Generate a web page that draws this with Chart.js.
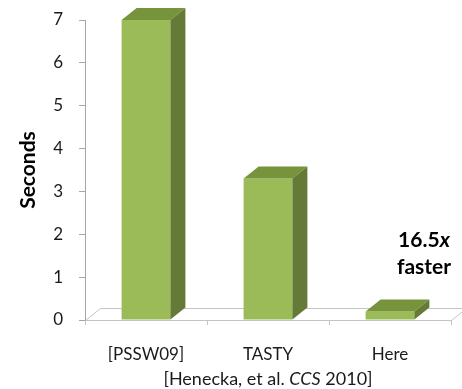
<!DOCTYPE html>
<html>
<head>
<meta charset="utf-8">
<script src="https://cdn.jsdelivr.net/npm/chart.js@4/dist/chart.umd.min.js"></script>
<style>
  html, body { margin: 0; padding: 0; background: #ffffff; }
  #wrap { width: 462px; height: 389px; }
</style>
</head>
<body>
<div id="wrap"><canvas id="chart" width="462" height="389"></canvas></div>
<script>
// Runtime of each protocol, in seconds
const categories = ['[PSSW09]', 'TASTY', 'Here'];
const seconds = [7.0, 3.3, 0.2];
const yTickValues = [0, 1, 2, 3, 4, 5, 6, 7];

// Text runs (italic flags) for the axis caption and the speed-up note
const captionRuns = [
  { text: '[Henecka, et al. ' },
  { text: 'CCS', italic: true },
  { text: ' 2010]' }
];
const noteLines = [
  [{ text: '16.5' }, { text: 'x', italic: true }],
  [{ text: 'faster' }]
];

const FONT = 'Lato, "Open Sans", "DejaVu Sans", sans-serif';
const FRONT = '#9bbb59';
const TOP = '#77933c';
const SIDE = '#657a36';
const FLOOR = '#c4c4c4';
const DX = 15, DY = -12;   // depth offset of the 3-D faces

function drawRuns(ctx, runs, cx, cy, size, weight) {
  const fontFor = r => `${r.italic ? 'italic ' : ''}${weight} ${size}px ${FONT}`;
  let total = 0;
  runs.forEach(r => { ctx.font = fontFor(r); total += ctx.measureText(r.text).width; });
  let x = cx - total / 2;
  ctx.textAlign = 'left';
  ctx.textBaseline = 'middle';
  runs.forEach(r => {
    ctx.font = fontFor(r);
    ctx.fillText(r.text, x, cy);
    x += ctx.measureText(r.text).width;
  });
}

const depthPlugin = {
  id: 'depth3d',
  beforeDatasetsDraw(chart) {
    const { ctx, chartArea: a } = chart;
    ctx.save();
    ctx.strokeStyle = FLOOR;
    ctx.lineWidth = 1;
    ctx.beginPath();
    ctx.moveTo(a.left + 0.5, a.bottom + 0.5);
    ctx.lineTo(a.left + DX + 0.5, a.bottom + DY + 0.5);
    ctx.lineTo(a.right + DX + 0.5, a.bottom + DY + 0.5);
    ctx.moveTo(a.right + 0.5, a.bottom + 0.5);
    ctx.lineTo(a.right + DX + 0.5, a.bottom + DY + 0.5);
    ctx.stroke();
    ctx.restore();
  },
  afterDatasetsDraw(chart) {
    const { ctx } = chart;
    const meta = chart.getDatasetMeta(0);
    ctx.save();
    meta.data.forEach(bar => {
      const { x, y, base, width } = bar.getProps(['x', 'y', 'base', 'width'], true);
      const l = x - width / 2, r = x + width / 2;
      ctx.fillStyle = TOP;
      ctx.beginPath();
      ctx.moveTo(l, y);
      ctx.lineTo(l + DX, y + DY);
      ctx.lineTo(r + DX, y + DY);
      ctx.lineTo(r, y);
      ctx.closePath();
      ctx.fill();
      ctx.fillStyle = SIDE;
      ctx.beginPath();
      ctx.moveTo(r, y);
      ctx.lineTo(r + DX, y + DY);
      ctx.lineTo(r + DX, base + DY);
      ctx.lineTo(r, base);
      ctx.closePath();
      ctx.fill();
    });
    ctx.restore();
  },
  afterDraw(chart) {
    const { ctx } = chart;
    const xs = chart.scales.x;
    const ys = chart.scales.y;
    ctx.save();
    ctx.fillStyle = '#1a1a1a';
    // axis caption under the category labels
    drawRuns(ctx, captionRuns, (xs.left + xs.right) / 2, xs.bottom - 10, 18, 'normal');
    // speed-up note beside the last bar
    const last = chart.getDatasetMeta(0).data[seconds.length - 1];
    const nx = last.x + 34;
    ctx.fillStyle = '#000000';
    drawRuns(ctx, noteLines[0], nx, ys.getPixelForValue(1.87), 21, 'bold');
    drawRuns(ctx, noteLines[1], nx, ys.getPixelForValue(1.22), 21, 'bold');
    ctx.restore();
  }
};

new Chart(document.getElementById('chart'), {
  type: 'bar',
  data: {
    labels: categories,
    datasets: [{
      data: seconds,
      backgroundColor: FRONT,
      borderWidth: 0,
      barPercentage: 0.4,
      categoryPercentage: 1.0
    }]
  },
  options: {
    responsive: false,
    animation: false,
    devicePixelRatio: 1,
    layout: { padding: { top: 20, right: 11, bottom: 0, left: 0 } },
    plugins: {
      legend: { display: false },
      tooltip: { enabled: false }
    },
    scales: {
      x: {
        offset: true,
        afterFit(scale) { scale.height = 69; },
        grid: {
          offset: true,
          drawOnChartArea: false,
          drawTicks: true,
          tickLength: 5,
          color: FLOOR
        },
        border: { display: true, color: FLOOR, width: 1 },
        ticks: {
          color: '#1a1a1a',
          padding: 19,
          maxRotation: 0,
          font: { family: FONT, size: 17 }
        }
      },
      y: {
        min: 0,
        max: 7,
        afterFit(scale) {
          scale.width = 85;
          scale.paddingTop = 0;
          scale.paddingBottom = 0;
        },
        afterBuildTicks(scale) { scale.ticks = yTickValues.map(v => ({ value: v })); },
        grid: {
          drawOnChartArea: false,
          drawTicks: true,
          tickLength: 6,
          color: '#a6a6a6'
        },
        border: { display: true, color: '#a6a6a6', width: 1 },
        ticks: {
          color: '#1a1a1a',
          padding: 16,
          font: { family: FONT, size: 17 }
        },
        title: {
          display: true,
          text: 'Seconds',
          color: '#000000',
          padding: { top: 16, bottom: 0 },
          font: { family: FONT, size: 21, weight: 'bold' }
        }
      }
    }
  },
  plugins: [depthPlugin]
});
</script>
</body>
</html>
